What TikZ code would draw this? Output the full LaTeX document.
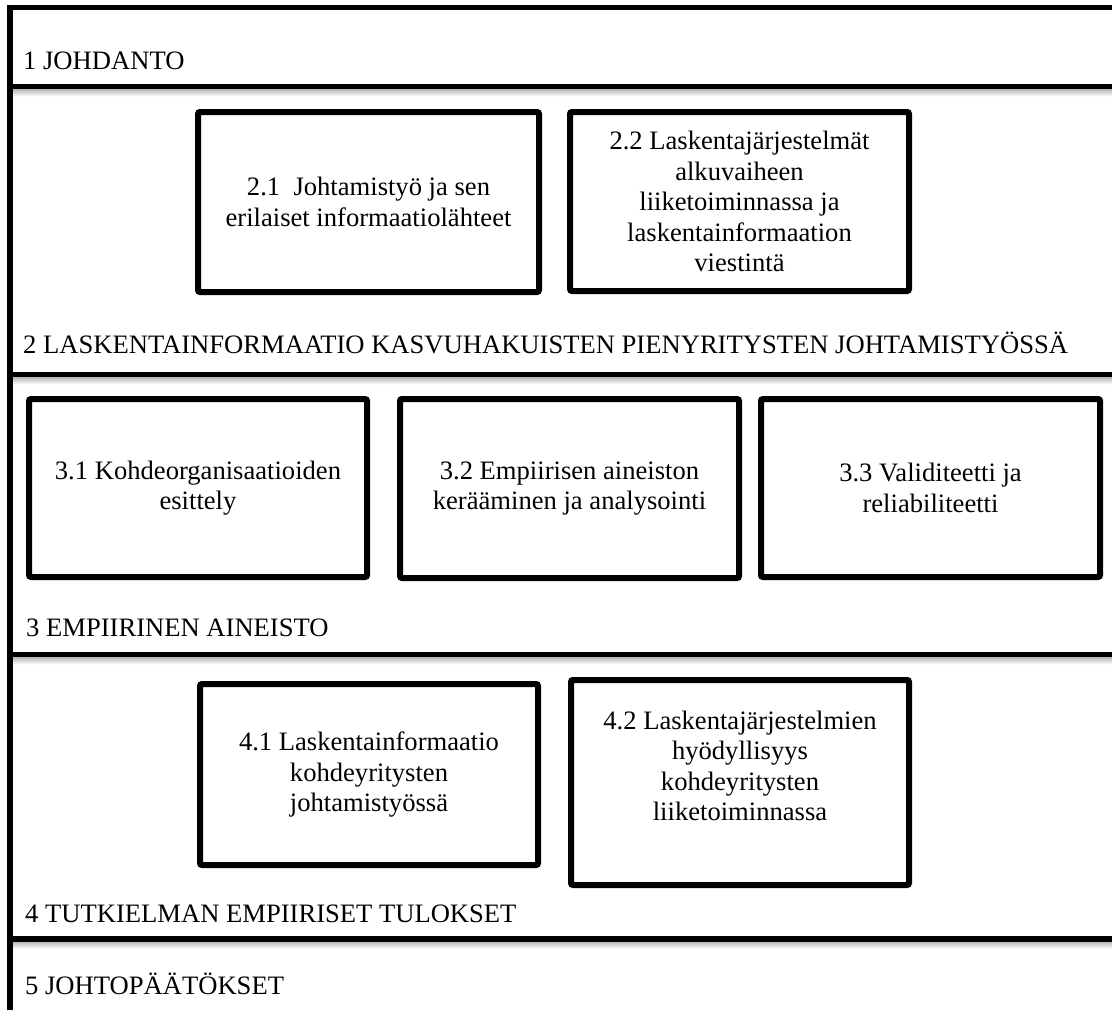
\documentclass[tikz,border=0pt]{standalone}
\usepackage{fontspec}
\setmainfont{Liberation Serif}
\begin{document}
\begin{tikzpicture}[x=1pt,y=-1pt,
  rule/.style={line width=5.5pt},
  chapter/.style={anchor=base west, inner sep=0pt, font=\fontsize{26.6}{30.5}\selectfont},
  secbox/.style={draw, line width=6pt, rounded corners=2pt, inner sep=0pt,
                 align=center, font=\fontsize{26.6}{30.5}\selectfont},
  boxtext/.style={inner sep=0pt, align=center, font=\fontsize{26.6}{30.5}\selectfont},
  rulefade/.style={top color=black!28, bottom color=white, draw=none}
]
\useasboundingbox (0,0) rectangle (1112,1010);
\fill[white] (0,0) rectangle (1112,1010);

% soft shadows under the chapter rules
\foreach \yy in {86.5,374.5,654.5,939} {
  \shade[rulefade] (13,\yy+2.5) rectangle (1112,\yy+10);
}

% outer frame: top rule and left spine
\draw[rule, line width=5.5pt] (1112,7.5) -- (10,7.5) -- (10,1010);

% chapter rules
\foreach \yy in {86.5,374.5,654.5,939} {
  \draw[rule] (10,\yy) -- (1112,\yy);
}

% chapter titles
\node[chapter] (ch1) at (23,69)  {1 JOHDANTO};
\node[chapter] (ch2) at (23,353) {2 LASKENTAINFORMAATIO KASVUHAKUISTEN PIENYRITYSTEN JOHTAMISTYÖSSÄ};
\node[chapter] (ch3) at (26,636) {3 EMPIIRINEN AINEISTO};
\node[chapter] (ch4) at (25,922) {4 TUTKIELMAN EMPIIRISET TULOKSET};
\node[chapter] (ch5) at (25,994) {5 JOHTOPÄÄTÖKSET};

% chapter 2 sections
\node[secbox, minimum width=341pt, minimum height=180pt] (s21) at (368.5,202)
  {2.1\ \ Johtamistyö ja sen\\erilaiset informaatiolähteet};
\node[secbox, minimum width=339pt, minimum height=179pt] (s22) at (739.5,201.5)
  {2.2 Laskentajärjestelmät\\alkuvaiheen\\liiketoiminnassa ja\\laskentainformaation\\viestintä};

% chapter 3 sections
\node[secbox, minimum width=338pt, minimum height=178pt] (s31) at (198,488)
  {3.1 Kohdeorganisaatioiden\\esittely};
\node[secbox, minimum width=339pt, minimum height=179pt] (s32) at (569.5,488.5)
  {3.2 Empiirisen aineiston\\kerääminen ja analysointi};
\node[secbox, minimum width=339pt, minimum height=178pt] (s33) at (930.5,488)
  {3.3 Validiteetti ja\\reliabiliteetti};

% chapter 4 sections
\node[secbox, minimum width=338pt, minimum height=181pt] (s41) at (369,774.5)
  {4.1 Laskentainformaatio\\kohdeyritysten\\johtamistyössä};
\node[secbox, minimum width=338pt, minimum height=205pt] (s42) at (740,782.5) {};
\node[boxtext] (t42) at (740,766)
  {4.2 Laskentajärjestelmien\\hyödyllisyys\\kohdeyritysten\\liiketoiminnassa};
\end{tikzpicture}
\end{document}
